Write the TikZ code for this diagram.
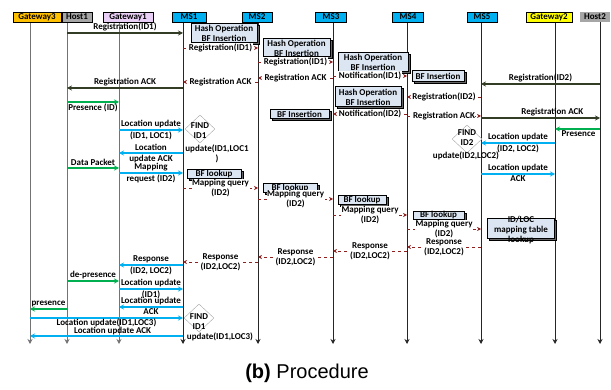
\documentclass[tikz,border=0pt]{standalone}
\usepackage{fontspec}
\setsansfont{Carlito}
\newfontfamily\capfont{Liberation Sans}
\usetikzlibrary{shapes.geometric,shadows,arrows.meta}

\definecolor{gwthree}{HTML}{FFC000}
\definecolor{hostgray}{HTML}{A6A6A6}
\definecolor{gwone}{HTML}{E9CFF5}
\definecolor{mscyan}{HTML}{00B0F0}
\definecolor{gwtwo}{HTML}{FFFF00}
\definecolor{regdark}{HTML}{333D26}
\definecolor{presgreen}{HTML}{00B050}
\definecolor{msgred}{HTML}{8E2020}
\definecolor{boxfill}{HTML}{DCE6F2}

\newcommand{\lblfont}{\sffamily\bfseries\fontsize{9}{10}\selectfont}

\tikzset{
  hdr/.style={draw=black, line width=0.8pt, minimum height=10pt, inner sep=0pt},
  life/.style={line width=1pt, -{Stealth[length=5pt,width=5pt]}},
  regmsg/.style={draw=regdark, line width=2pt, -{Stealth[length=5pt,width=5pt]}},
  presmsg/.style={draw=presgreen, line width=2pt, -{Stealth[length=5pt,width=5pt]}},
  locmsg/.style={draw=mscyan, line width=2pt, -{Stealth[length=5pt,width=5pt]}},
  msmsg/.style={draw=msgred, line width=0.8pt, dashed, -{Stealth[length=4pt,width=4pt]}},
  onlbl/.style={midway, fill=white, inner sep=0.5pt, align=center},
  procbox/.style={draw=black, line width=1pt, fill=boxfill, inner sep=0pt, align=center,
    general shadow={shadow xshift=2pt, shadow yshift=-2pt, draw=black, line width=1pt, fill=black!60}},
  findmark/.style={diamond, draw=black!35, fill=white, inner sep=0pt, minimum width=30pt, minimum height=28pt}
}

\begin{document}
\begin{tikzpicture}[x=1pt, y=-1pt, >=Stealth, every node/.append style={font=\lblfont}]

\useasboundingbox (0,0) rectangle (611,390);

% lifelines
\foreach \n/\x in {G3/30,H1/67,GW1/119,MS1/183,MS2/258,MS3/333,MS4/407,MS5/481,GW2/555,H2/600} {
  \coordinate (\n) at (\x,22);
  \coordinate (\n e) at (\x,344);
}
\foreach \n in {G3,H1,GW1}
  \draw[life, black!55] (\n) -- (\n e);
\foreach \n in {MS1,MS2,MS3,MS4,MS5,GW2,H2}
  \draw[life, black!85] (\n) -- (\n e);

% headers
\node[hdr, fill=gwthree, minimum width=48pt] (hg3) at (37,17) {Gateway3};
\node[hdr, fill=hostgray, minimum width=30pt] (hh1) at (77,17) {Host1};
\node[hdr, fill=gwone, minimum width=50pt] (hgw1) at (128,17) {Gateway1};
\node[hdr, fill=mscyan, minimum width=34pt] (hms1) at (189,17) {MS1};
\node[hdr, fill=mscyan, minimum width=30pt] (hms2) at (257,17) {MS2};
\node[hdr, fill=mscyan, minimum width=31pt] (hms3) at (331,17) {MS3};
\node[hdr, fill=mscyan, minimum width=31pt] (hms4) at (408,17) {MS4};
\node[hdr, fill=mscyan, minimum width=30pt] (hms5) at (482,17) {MS5};
\node[hdr, fill=gwtwo, minimum width=46pt] (hgw2) at (549,17) {Gateway2};
\node[hdr, fill=hostgray, draw=none, minimum width=30pt] (hh2) at (595,17) {Host2};

% processing boxes
\node[procbox, minimum width=66pt, minimum height=19pt] (hash1) at (224,33.5) {Hash Operation\\BF Insertion};
\node[procbox, minimum width=67pt, minimum height=18pt] (hash2) at (296.5,48) {Hash Operation\\BF Insertion};
\node[procbox, minimum width=70pt, minimum height=19pt] (hash3) at (373,62.5) {Hash Operation\\BF Insertion};
\node[procbox, minimum width=52pt, minimum height=11pt] (ins4) at (438,76.5) {BF Insertion};
\node[procbox, minimum width=66pt, minimum height=20pt] (hash5) at (368,97) {Hash Operation\\BF Insertion};
\node[procbox, minimum width=59pt, minimum height=9pt] (ins6) at (299.5,114.5) {BF Insertion};
\node[procbox, minimum width=54pt, minimum height=9pt] (look1) at (214,174) {BF lookup};
\node[procbox, minimum width=54pt, minimum height=9pt] (look2) at (290,188) {BF lookup};
\node[procbox, minimum width=48pt, minimum height=9pt] (look3) at (362,200) {BF lookup};
\node[procbox, minimum width=51pt, minimum height=8pt] (look4) at (438.5,215.5) {BF lookup};
\node[procbox, minimum width=67pt, minimum height=20pt] (maptab) at (520.5,229) {};
\node[align=center] (maptxt) at (521,230) {ID/LOC\\mapping table\\lookup};

% find steps
\node[findmark] (find1) at (200,129) {};
\node[align=center] (find1t) at (200,131) {FIND\\ID1};
\node[align=center] (upd1) at (217,154) {update(ID1,LOC1\\)};
\node[findmark] (find2) at (467,139) {};
\node[align=center] (find2t) at (467,138) {FIND\\ID2};
\node (upd2) at (466,156) {update(ID2,LOC2)};
\node[findmark] (find3) at (199,318) {};
\node[align=center] (find3t) at (199,322) {FIND\\ID1};
\node (upd3) at (220,337) {update(ID1,LOC3)};

% registration
\draw[regmsg] (H1 |- 0,33) -- (MS1 |- 0,33) node[midway,above,inner sep=1pt]{Registration(ID1)};
\draw[regmsg] (MS1 |- 0,88) -- (H1 |- 0,88) node[midway,above,inner sep=1pt]{Registration ACK};
\draw[regmsg] (H2 |- 0,84) -- (MS5 |- 0,84) node[midway,above,inner sep=1pt]{Registration(ID2)};
\draw[regmsg] (MS5 |- 0,118) -- (H2 |- 0,118) node[pos=0.6,above,inner sep=1pt]{Registration ACK};

% presence
\draw[presmsg] (H1 |- 0,102) -- (GW1 |- 0,102) node[midway,below,inner sep=1pt]{Presence (ID)};
\draw[presmsg] (H2 |- 0,129) -- (GW2 |- 0,129) node[midway,below,inner sep=1pt,xshift=1pt]{Presence};
\draw[presmsg] (H1 |- 0,168) -- (GW1 |- 0,168) node[midway,above,inner sep=1pt]{Data Packet};
\draw[presmsg] (H1 |- 0,281) -- (GW1 |- 0,281) node[midway,above,inner sep=1pt]{de-presence};
\draw[presmsg] (H1 |- 0,309) -- (G3 |- 0,309) node[midway,above,inner sep=1pt]{presence};

% location update
\draw[locmsg] (GW1 |- 0,130) -- (MS1 |- 0,130) node[midway,above,inner sep=1pt]{Location update} node[midway,below,inner sep=1pt]{(ID1, LOC1)};
\draw[locmsg] (MS1 |- 0,153) -- (GW1 |- 0,153) node[midway,above,inner sep=1pt]{Location} node[midway,below,inner sep=1pt]{update ACK};
\draw[locmsg] (GW1 |- 0,173) -- (MS1 |- 0,173) node[midway,above,inner sep=1pt]{Mapping} node[midway,below,inner sep=1pt]{request (ID2)};
\draw[locmsg] (GW2 |- 0,143) -- (MS5 |- 0,143) node[midway,above,inner sep=1pt]{Location update} node[midway,below,inner sep=1pt]{(ID2, LOC2)};
\draw[locmsg] (MS5 |- 0,174) -- (GW2 |- 0,174) node[midway,above,inner sep=1pt]{Location update} node[midway,below,inner sep=1pt]{ACK};
\draw[locmsg] (MS1 |- 0,265) -- (GW1 |- 0,265) node[midway,above,inner sep=1pt]{Response} node[midway,below,inner sep=1pt]{(ID2, LOC2)};
\draw[locmsg] (GW1 |- 0,289) -- (MS1 |- 0,289) node[midway,above,inner sep=1pt]{Location update} node[midway,below,inner sep=0.5pt]{(ID1)};
\draw[locmsg] (MS1 |- 0,307) -- (GW1 |- 0,307) node[midway,above,inner sep=1pt]{Location update} node[midway,below,inner sep=1pt]{ACK};
\draw[locmsg] (G3 |- 0,318) -- (MS1 |- 0,318) node[pos=0.5,below,inner sep=0pt]{Location update(ID1,LOC3)};
\draw[locmsg] (MS1 |- 0,336) -- (G3 |- 0,336) node[pos=0.46,above,inner sep=0.5pt]{Location update ACK};

% between mapping servers
\foreach \a/\b/\y/\t in {MS1/MS2/48/{Registration(ID1)}, MS2/MS3/62/{Registration(ID1)},
    MS3/MS4/76/{Notification(ID1)}, MS3/MS2/78/{Registration ACK}, MS2/MS1/82/{Registration ACK},
    MS5/MS4/97/{Registration(ID2)}, MS4/MS3/114/{Notification(ID2)}, MS4/MS5/116/{Registration ACK},
    MS1/MS2/188/{Mapping query\\(ID2)}, MS2/MS3/199/{Mapping query\\(ID2)},
    MS3/MS4/215/{Mapping query\\(ID2)}, MS4/MS5/229/{Mapping query\\(ID2)},
    MS5/MS4/247/{Response\\(ID2,LOC2)}, MS4/MS3/251/{Response\\(ID2,LOC2)},
    MS3/MS2/257/{Response\\(ID2,LOC2)}, MS2/MS1/262/{Response\\(ID2,LOC2)}}
  \draw[msmsg] (\a |- 0,\y) -- (\b |- 0,\y) node[onlbl]{\t};

% caption
\node[font=\capfont\fontsize{20}{24}\selectfont] (cap) at (307,373) {\textbf{(b)} Procedure};

\end{tikzpicture}
\end{document}
